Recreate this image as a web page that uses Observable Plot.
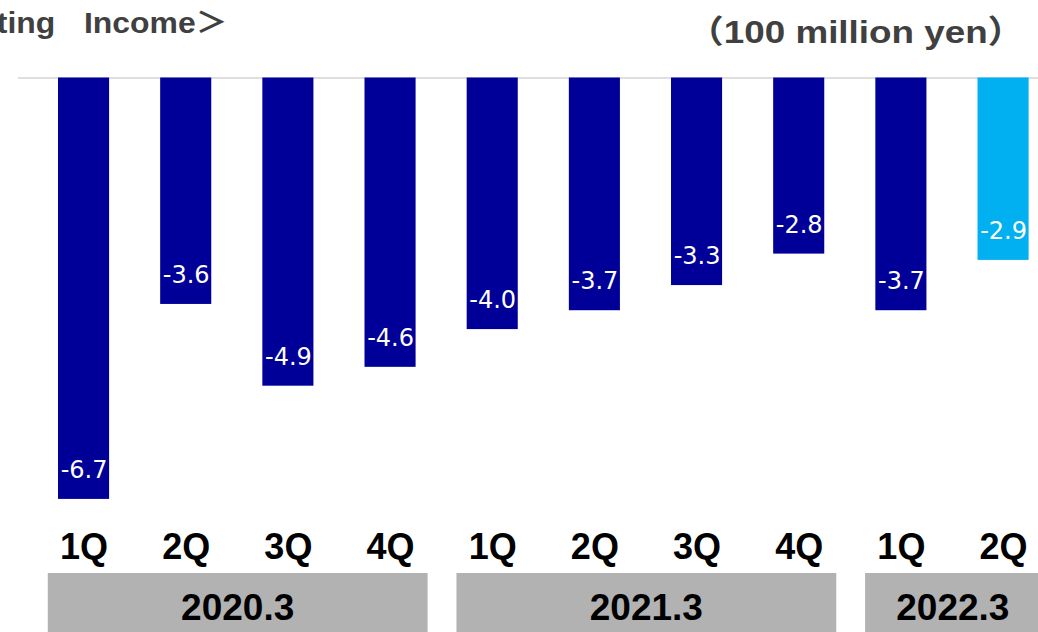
<!DOCTYPE html>
<html>
<head>
<meta charset="utf-8">
<script src="https://cdn.jsdelivr.net/npm/d3@7"></script>
<script src="https://cdn.jsdelivr.net/npm/@observablehq/plot@0.6"></script>
<style>
  html, body { margin: 0; padding: 0; background: #fff; }
  #wrap { width: 1038px; position: relative; overflow: hidden; }
  #head { position: relative; height: 60px; width: 1038px; overflow: hidden; }
  #head div {
    position: absolute; white-space: nowrap; line-height: 1;
    font-family: "Liberation Sans", Arial, "Noto Sans CJK JP", sans-serif;
    font-weight: bold; color: #404040;
    transform-origin: right center;
  }
  #title { right: 810px; top: 9px; font-size: 29px; word-spacing: 18px; transform: scaleX(1.1); }
  #unit { right: 14px; top: 16px; font-size: 32px; transform: scaleX(1.15); }
</style>
</head>
<body>
<div id="wrap">
  <div id="head">
    <div id="title">＜Operating Income＞</div>
    <div id="unit">（100 million yen）</div>
  </div>
  <div id="chart"></div>
</div>
<script>
// Quarterly operating income, 100 million yen
const fiscalYears = ["2020.3", "2020.3", "2020.3", "2020.3", "2021.3", "2021.3", "2021.3", "2021.3", "2022.3", "2022.3"];
const quarters = ["1Q", "2Q", "3Q", "4Q", "1Q", "2Q", "3Q", "4Q", "1Q", "2Q"];
const income = [-6.7, -3.6, -4.9, -4.6, -4.0, -3.7, -3.3, -2.8, -3.7, -2.9];
const yearGroups = ["2020.3", "2021.3", "2022.3"];

const rows = income.map((v, i) => ({
  key: fiscalYears[i] + " " + quarters[i],
  year: fiscalYears[i],
  quarter: quarters[i],
  value: v,
  latest: i === income.length - 1
}));

const boldFont = '"Liberation Sans", Arial, sans-serif';

// Grey fiscal-year boxes under the quarter labels
function yearBands(index, scales, values, dimensions) {
  const x = scales.x;
  const bw = x.bandwidth();
  const g = d3.create("svg:g");
  const boxH = 59;
  const top = dimensions.height - boxH;
  for (const yr of yearGroups) {
    const keys = rows.filter(r => r.year === yr).map(r => r.key);
    const x0 = x(keys[0]) - 0.2 * bw;
    const x1 = x(keys[keys.length - 1]) + bw * 1.235;
    const left = Math.max(0, x0);
    const right = Math.min(dimensions.width, x1);
    g.append("rect")
      .attr("x", left).attr("y", top)
      .attr("width", right - left).attr("height", boxH)
      .attr("fill", "#B2B2B2");
    g.append("text")
      .attr("x", (x0 + x1) / 2).attr("y", dimensions.height - 12)
      .attr("text-anchor", "middle")
      .attr("font-family", boldFont)
      .attr("font-weight", "bold")
      .attr("font-size", 37)
      .attr("fill", "#000")
      .text(yr);
  }
  return g.node();
}

const chart = Plot.plot({
  width: 1038,
  height: 572,
  marginTop: 17.5,
  marginBottom: 100,
  marginLeft: 58,
  marginRight: 9.4,
  style: { background: "#fff", overflow: "visible" },
  x: { domain: rows.map(d => d.key), axis: null, paddingInner: 0.5, paddingOuter: 0, align: 0.5, round: false },
  y: { domain: [-7.226, 0], axis: null },
  color: { type: "identity" },
  marks: [
    Plot.ruleY([0], { stroke: "#BFBFBF", strokeWidth: 1.2, insetLeft: -40, insetRight: -9.4 }),
    Plot.barY(rows, { x: "key", y: "value", fill: d => d.latest ? "#00B0F0" : "#000099" }),
    Plot.text(rows, {
      x: "key", y: "value", text: d => d.value.toFixed(1),
      fill: "#fff", fontSize: 24, fontFamily: '"DejaVu Sans", sans-serif',
      textAnchor: "middle", dy: -29
    }),
    Plot.text(rows, {
      x: "key", text: "quarter", frameAnchor: "bottom", lineAnchor: "top",
      dy: 1, fontSize: 36, fontWeight: "bold", fontFamily: boldFont, fill: "#000"
    }),
    yearBands
  ]
});

document.getElementById("chart").appendChild(chart);
</script>
</body>
</html>
